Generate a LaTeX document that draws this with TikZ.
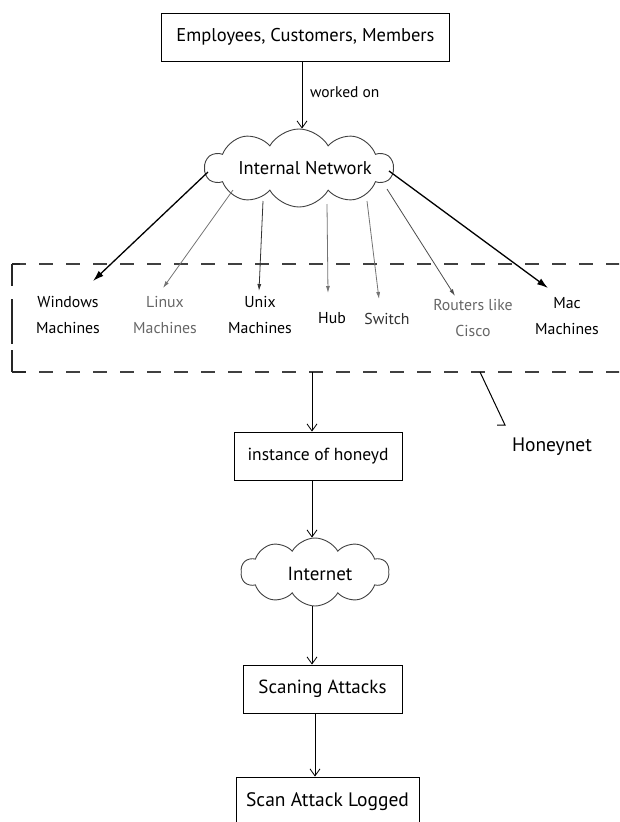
\documentclass[tikz,border=0pt]{standalone}
\usepackage{fontspec}
\setmainfont{PT Sans}
\usetikzlibrary{shapes.symbols,arrows.meta}
\begin{document}
\begin{tikzpicture}[x=1pt,y=-1pt,
  box/.style={draw,line width=0.9pt,rectangle,inner sep=0pt,font=\fontsize{18.5}{20}\selectfont},
  cloudnode/.style={draw=black!75,line width=0.9pt,cloud,cloud puffs=10,cloud puff arc=120,cloud ignores aspect,inner sep=0pt},
  ctext/.style={inner sep=0pt,font=\fontsize{18.5}{20}\selectfont},
  lbl/.style={align=center,font=\fontsize{15.8}{26}\selectfont,inner sep=0pt},
  vflow/.style={line width=0.8pt,-{Straight Barb[length=7pt,width=10pt]}},
  fanbold/.style={line width=1.3pt,-{Latex[length=11pt,width=7pt]}},
  fanthin/.style={line width=0.8pt,-{Latex[length=7pt,width=4pt]}},
  dashbox/.style={line width=1.3pt,black!75,dash pattern=on 14pt off 13pt}
]
\useasboundingbox (0,0) rectangle (619,822);
\clip (0,0) rectangle (619,822);

% nodes
\node[box,minimum width=288pt,minimum height=48pt] (top) at (305.5,37) {Employees, Customers, Members};
\node[cloudnode,minimum width=188pt,minimum height=78pt] (net) at (299,168) {};
\node[ctext] (netl) at (305,168) {Internal Network};

\node[lbl] (win) at (68,315) {Windows\\Machines};
\node[lbl,text=black!60] (lin) at (165,315) {Linux\\Machines};
\node[lbl] (unx) at (260,315) {Unix\\Machines};
\node[lbl] (hub) at (332,318) {Hub};
\node[lbl,text=black!80] (swi) at (387,319) {Switch};
\node[lbl,text=black!60] (rou) at (473,318) {Routers like\\Cisco};
\node[lbl] (mac) at (567,316) {Mac\\Machines};

\node[box,minimum width=168pt,minimum height=48pt,font=\fontsize{17.5}{20}\selectfont] (hd) at (318,456) {instance of honeyd};
\node[lbl,font=\fontsize{19.5}{20}\selectfont] (hnet) at (552,447) {Honeynet};
\node[cloudnode,minimum width=148pt,minimum height=68pt] (inet) at (315,572) {};
\node[ctext,font=\fontsize{19}{20}\selectfont] (inetl) at (320,574) {Internet};
\node[box,minimum width=159pt,minimum height=48pt,font=\fontsize{19}{20}\selectfont] (scan) at (322.5,689) {Scaning Attacks};
\node[box,minimum width=183pt,minimum height=50pt,font=\fontsize{19.5}{20}\selectfont] (log) at (327.5,802) {Scan Attack Logged};

% honeynet dashed region
\coordinate (dtl) at (12,264);
\coordinate (dbl) at (12,372);
\coordinate (dtr) at (625,264);
\coordinate (dbr) at (625,372);
\draw[dashbox] (dtl) -- (dtr);
\draw[dashbox] (dbl) -- (dbr);
\draw[line width=1.3pt,black!85,dash pattern=on 22pt off 13pt on 45pt off 6pt on 30pt] (dtl) -- (dbl);
\draw[line width=1.3pt,black!85] (dtl) -- ++(8,0);
\draw[line width=1.3pt,black!85] (dbl) -- ++(14,0);

% top flow
\coordinate (wk) at (302,0);
\draw[vflow] (top.south -| wk) -- (net.north -| wk);
\node[lbl,font=\fontsize{15.5}{18}\selectfont,anchor=west] (wo) at (310,92) {worked on};

% fan out
\coordinate (sw) at (208,172);
\coordinate (sl) at (233,190);
\coordinate (su) at (263,201);
\coordinate (sh) at (327,204);
\coordinate (ss) at (367,201);
\coordinate (sr) at (387,189);
\coordinate (sm) at (389,171);
\coordinate (tw) at (93,281);
\coordinate (tl) at (163,288);
\coordinate (tu) at (259,291);
\coordinate (th) at (328,293);
\coordinate (ts) at (379,299);
\coordinate (tr) at (455,296);
\coordinate (tm) at (548,288);
\draw[fanbold] (sw) -- (tw);
\draw[fanthin,black!55] (sl) -- (tl);
\draw[fanthin,black!80] (su) -- (tu);
\draw[fanthin,black!55] (sh) -- (th);
\draw[fanthin,black!55] (ss) -- (ts);
\draw[fanthin,black!70] (sr) -- (tr);
\draw[fanbold] (sm) -- (tm);

% lower flow
\coordinate (hdin) at (312,372);
\draw[vflow] (hdin) -- (hdin |- hd.north);
\draw[vflow] (hd.south -| hdin) -- (hdin |- inet.north);
\draw[vflow] (inet.south -| hdin) -- (scan.north -| hdin);
\coordinate (lg) at (315,0);
\draw[vflow] (scan.south -| lg) -- (log.north -| lg);

% honeynet pointer
\coordinate (hna) at (480,372);
\coordinate (hnb) at (505,425);
\draw[line width=1pt] (hna) -- (hnb) -- ++(-8,0);
\end{tikzpicture}
\end{document}
